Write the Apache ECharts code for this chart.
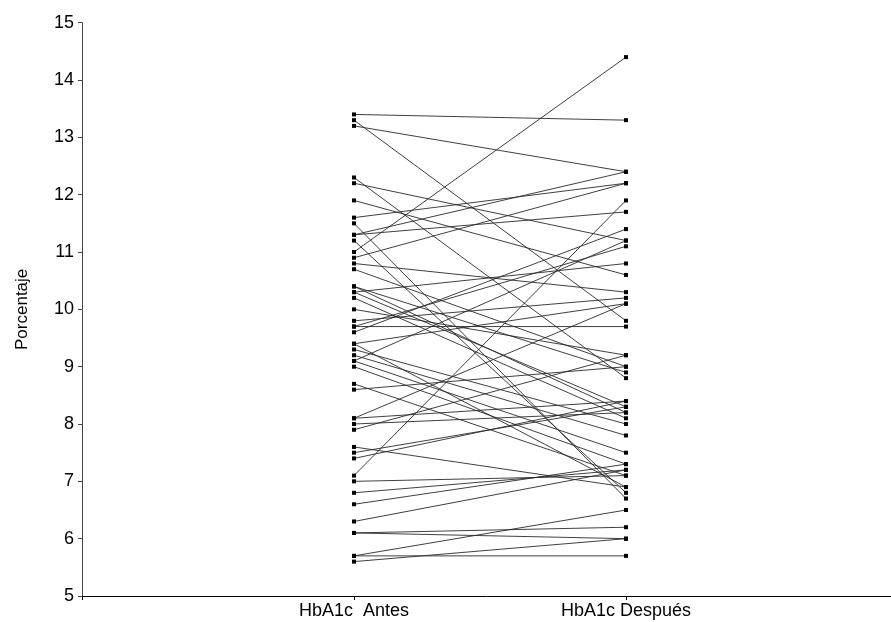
<!DOCTYPE html>
<html>
<head>
<meta charset="utf-8">
<script src="https://cdn.jsdelivr.net/npm/echarts@6/dist/echarts.min.js"></script>
<style>
html,body{margin:0;padding:0;background:#fff;}
#chart{width:891px;height:622px;}
</style>
</head>
<body>
<div id="chart"></div>
<script>
// Categories (x positions 1 and 2)
var categories = ["HbA1c  Antes", "HbA1c Después"];
// HbA1c before (Antes) for each patient
var antes = [13.4, 13.3, 13.2, 12.3, 12.2, 11.9, 11.6, 11.5, 11.3, 11.3,
             11.2, 11.0, 10.9, 10.8, 10.7, 10.4, 10.4, 10.3, 10.3, 10.2,
             10.0, 9.8, 9.7, 9.7, 9.6, 9.4, 9.4, 9.3, 9.2, 9.1,
             9.1, 9.0, 8.7, 8.6, 8.1, 8.1, 8.0, 7.9, 7.6, 7.5,
             7.4, 7.1, 7.0, 6.8, 6.6, 6.3, 6.1, 6.1, 5.7, 5.7, 5.6];
// HbA1c after (Después) for each patient, same order
var despues = [13.3, 9.8, 12.4, 8.8, 11.2, 10.6, 12.2, 6.7, 12.4, 11.7,
               6.8, 14.4, 12.2, 10.3, 9.0, 8.2, 8.9, 10.8, 8.3, 8.1,
               9.2, 10.2, 9.7, 11.1, 11.4, 10.1, 6.9, 8.0, 7.8, 11.2,
               7.5, 7.3, 7.1, 9.0, 8.4, 10.1, 8.2, 9.2, 6.9, 8.3,
               8.4, 11.9, 7.1, 7.2, 7.3, 7.2, 6.2, 6.0, 6.5, 5.7, 6.0];
// Y tick values
var yTicks = [5, 6, 7, 8, 9, 10, 11, 12, 13, 14, 15];

var series = [];
for (var i = 0; i < antes.length; i++) {
  series.push({
    type: 'line',
    data: [[1, antes[i]], [2, despues[i]]],
    symbol: 'rect',
    symbolSize: 4,
    itemStyle: { color: '#000' },
    lineStyle: { color: '#2a2a2a', width: 0.9 },
    silent: true,
    z: 2
  });
}

var chart = echarts.init(document.getElementById('chart'), null, { renderer: 'canvas' });
chart.setOption({
  animation: false,
  backgroundColor: '#fff',
  grid: { left: 82, right: 0, top: 22.7, bottom: 26, containLabel: false },
  xAxis: {
    type: 'value',
    min: 0,
    max: 809 / 272,
    interval: 1,
    splitLine: { show: false },
    axisLine: { show: true, lineStyle: { color: '#000', width: 1 } },
    axisTick: { show: true, length: 4, lineStyle: { color: '#000' } },
    axisLabel: {
      showMaxLabel: false,
      margin: 6,
      fontFamily: 'Liberation Sans, Arial, sans-serif',
      fontSize: 18,
      color: '#000',
      formatter: function (v) {
        if (Math.abs(v - 1) < 1e-6) return categories[0];
        if (Math.abs(v - 2) < 1e-6) return categories[1];
        return '';
      }
    }
  },
  yAxis: {
    type: 'value',
    min: yTicks[0],
    max: yTicks[yTicks.length - 1],
    interval: 1,
    name: 'Porcentaje',
    nameLocation: 'middle',
    nameGap: 51,
    nameRotate: 90,
    nameTextStyle: { fontFamily: 'Liberation Sans, Arial, sans-serif', fontSize: 17, color: '#000' },
    splitLine: { show: false },
    axisLine: { show: true, lineStyle: { color: '#444', width: 1 } },
    axisTick: { show: true, length: 4, lineStyle: { color: '#444' } },
    axisLabel: {
      margin: 8,
      fontFamily: 'Liberation Sans, Arial, sans-serif',
      fontSize: 18,
      color: '#000'
    }
  },
  series: series
});
</script>
</body>
</html>
